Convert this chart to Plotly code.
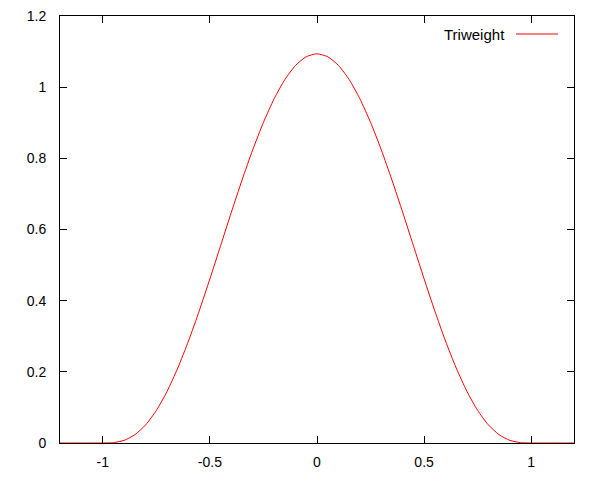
import plotly.graph_objects as go

# triweight kernel, sampled every 0.05 across the plotted range
x_vals = [-1.2, -1.15, -1.1, -1.05, -1.0, -0.95, -0.9, -0.85, -0.8, -0.75,
          -0.7, -0.65, -0.6, -0.55, -0.5, -0.45, -0.4, -0.35, -0.3, -0.25,
          -0.2, -0.15, -0.1, -0.05, 0.0, 0.05, 0.1, 0.15, 0.2, 0.25,
          0.3, 0.35, 0.4, 0.45, 0.5, 0.55, 0.6, 0.65, 0.7, 0.75,
          0.8, 0.85, 0.9, 0.95, 1.0, 1.05, 1.1, 1.15, 1.2]
y_vals = [0.0, 0.0, 0.0, 0.0, 0.0, 0.00101, 0.0075, 0.02337, 0.05103, 0.09159,
          0.14509, 0.21065, 0.28672, 0.37115, 0.46143, 0.55477, 0.64827, 0.73903, 0.82422, 0.90122,
          0.96768, 1.02157, 1.06127, 1.08557, 1.09375, 1.08557, 1.06127, 1.02157, 0.96768, 0.90122,
          0.82422, 0.73903, 0.64827, 0.55477, 0.46143, 0.37115, 0.28672, 0.21065, 0.14509, 0.09159,
          0.05103, 0.02337, 0.0075, 0.00101, 0.0, 0.0, 0.0, 0.0, 0.0]

x_ticks = [-1, -0.5, 0, 0.5, 1]
x_tick_text = ['-1', '-0.5', '0', '0.5', '1']
y_ticks = [0, 0.2, 0.4, 0.6, 0.8, 1, 1.2]
y_tick_text = ['0', '0.2', '0.4', '0.6', '0.8', '1', '1.2']

series_name = 'Triweight'
font_family = 'Liberation Sans, Arial, sans-serif'

fig = go.Figure()
fig.add_trace(go.Scatter(
    x=x_vals, y=y_vals, mode='lines', name=series_name,
    line=dict(color='#ff0000', width=1, shape='spline', smoothing=0.6),
    showlegend=False,
))

axis_style = dict(
    showgrid=False, zeroline=False,
    showline=True, linecolor='black', linewidth=1, mirror='ticks',
    ticks='inside', ticklen=7, tickcolor='black', tickwidth=1,
    tickfont=dict(family=font_family, size=14, color='black'),
    ticklabeloverflow='allow', automargin=False,
)

fig.update_xaxes(range=[-1.2, 1.2], tickvals=x_ticks, ticktext=x_tick_text,
                 ticklabelstandoff=6, **axis_style)
fig.update_yaxes(range=[0, 1.2], tickvals=y_ticks, ticktext=y_tick_text,
                 ticklabelstandoff=10, **axis_style)

# the page body adds an 8px margin, so the figure is shrunk to fit the window
fig.update_layout(
    width=592, height=472,
    margin=dict(l=52, r=26, t=8, b=37),
    plot_bgcolor='white', paper_bgcolor='white',
)

# gnuplot-style key: text first, sample line to its right (page pixels -> domain)
plot_left, plot_top, plot_w, plot_h = 60, 16, 514, 427
key_y = 1 - (34 - plot_top) / plot_h
fig.add_annotation(
    x=(507 - plot_left) / plot_w, y=key_y, xref='x domain', yref='y domain',
    text=series_name, showarrow=False, xanchor='right', yanchor='middle',
    font=dict(family=font_family, size=15, color='black'),
)
fig.add_shape(type='line', xref='x domain', yref='y domain',
              x0=(516 - plot_left) / plot_w, x1=(558 - plot_left) / plot_w,
              y0=key_y, y1=key_y, line=dict(color='#ff0000', width=1))

fig.write_html("out.html")
